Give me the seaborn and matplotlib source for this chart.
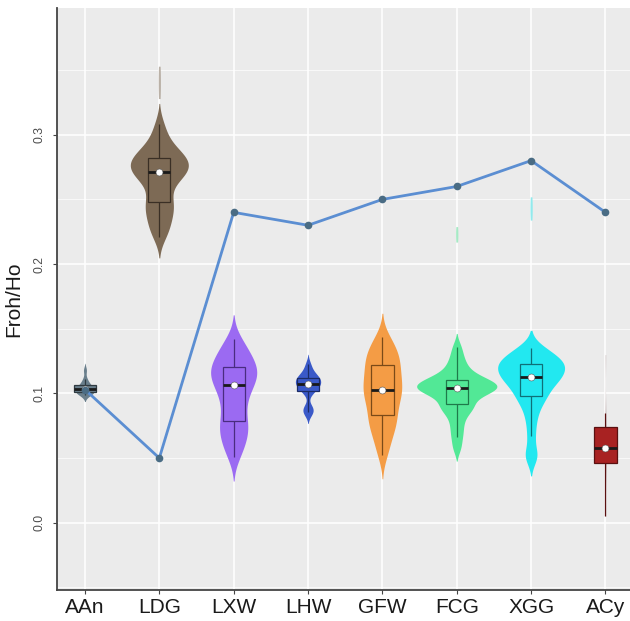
import numpy as np
import pandas as pd
import matplotlib
matplotlib.use("Agg")
import matplotlib.pyplot as plt
from matplotlib.colors import to_rgb
from matplotlib.ticker import MultipleLocator
import seaborn as sns

# ---------------- data ----------------
categories = ["AAn", "LDG", "LXW", "LHW", "GFW", "FCG", "XGG", "ACy"]

aan = [0.099, 0.100, 0.101, 0.101, 0.102, 0.103, 0.104, 0.105, 0.106, 0.108, 0.111, 0.118]
ldg = [0.221, 0.226, 0.231, 0.235, 0.239, 0.243, 0.246, 0.248, 0.252, 0.258,
       0.263, 0.266, 0.268, 0.270, 0.271, 0.272, 0.274, 0.276, 0.277, 0.279,
       0.280, 0.282, 0.283, 0.285, 0.287, 0.290, 0.294, 0.300, 0.308]
lxw = [0.051, 0.057, 0.062, 0.066, 0.070, 0.073, 0.0765, 0.079, 0.0845, 0.0895,
       0.094, 0.098, 0.1015, 0.105, 0.108, 0.110, 0.112, 0.114, 0.116, 0.118,
       0.120, 0.122, 0.1245, 0.127, 0.130, 0.1335, 0.1375, 0.142]
lhw = [0.084, 0.086, 0.088, 0.090, 0.100, 0.102, 0.104, 0.105, 0.106, 0.107,
       0.108, 0.109, 0.110, 0.111, 0.112, 0.113, 0.114, 0.116, 0.119, 0.123]
gfw = [0.052, 0.060, 0.066, 0.071, 0.075, 0.078, 0.081, 0.084, 0.088, 0.092,
       0.095, 0.098, 0.100, 0.102, 0.104, 0.107, 0.110, 0.112, 0.115, 0.118,
       0.121, 0.124, 0.126, 0.129, 0.132, 0.135, 0.139, 0.144]
fcg = [0.058, 0.066, 0.072, 0.078, 0.083, 0.087, 0.089, 0.090, 0.092, 0.095,
       0.098, 0.100, 0.101, 0.102, 0.103, 0.104, 0.104, 0.105, 0.105, 0.106,
       0.107, 0.108, 0.109, 0.110, 0.111, 0.112, 0.114, 0.117, 0.120, 0.124,
       0.129, 0.136]
xgg = [0.050, 0.054, 0.067, 0.078, 0.086, 0.092, 0.096, 0.098, 0.101,
       0.104, 0.107, 0.109, 0.111, 0.112, 0.113, 0.114, 0.116, 0.118, 0.120,
       0.121, 0.122, 0.123, 0.124, 0.125, 0.127, 0.129, 0.131, 0.134, 0.135]
acy = [0.005, 0.038, 0.046, 0.055, 0.058, 0.066, 0.074, 0.085, 0.130]

# detached upper tails (isolated high values)
ldg_tail = [0.328, 0.336, 0.345, 0.353]
fcg_tail = [0.217, 0.223, 0.229]
xgg_tail = [0.234, 0.240, 0.246, 0.252]

line_values = [0.103, 0.050, 0.240, 0.230, 0.250, 0.260, 0.280, 0.240]

y_ticks = [0.0, 0.1, 0.2, 0.3]
y_label = "Froh/Ho"

# ---------------- styles ----------------
group_values = [aan, ldg, lxw, lhw, gfw, fcg, xgg, acy]
tail_values = {"LDG": ldg_tail, "FCG": fcg_tail, "XGG": xgg_tail}
fill_colors = ["#6a7f8c", "#7d6a55", "#9b6af2", "#3a59c8", "#f49c45",
               "#52e896", "#22e8f0", "#a82222"]
edge_colors = ["#2f3a40", "#3a2f25", "#4a2c80", "#1c2c66", "#7a4a18",
               "#1f7a4a", "#0f7078", "#5a1010"]
violin_colors = ["#6a7f8c", "#7d6a55", "#9b6af2", "#3a59c8", "#f49c45",
                 "#52e896", "#22e8f0", "#8a6a6a"]
violin_widths = [0.26, 0.78, 0.62, 0.34, 0.52, 1.08, 0.9, 0.012]
bw_adjusts = [0.8, 0.7, 0.7, 0.6, 0.7, 0.6, 0.6, 0.5]
cuts = [2, 2, 2, 2, 2, 2, 2, 0]
bg = "#ebebeb"


def blend(c, amount):
    a = np.array(to_rgb(c))
    b = np.array(to_rgb(bg))
    return tuple(a * (1 - amount) + b * amount)


plt.rcParams["font.family"] = ["Liberation Sans", "DejaVu Sans"]

fig = plt.figure(figsize=(6.3, 6.21), dpi=100)
ax = fig.add_axes([57 / 630, 1 - 590 / 621, (630 - 57) / 630, (590 - 8) / 621])
ax.set_facecolor(bg)

for cat, vals, fc, vc, ec, w, bw, ct in zip(categories, group_values, fill_colors,
                                            violin_colors, edge_colors,
                                            violin_widths, bw_adjusts, cuts):
    df = pd.DataFrame({"group": [cat] * len(vals), "value": vals})
    sns.violinplot(data=df, x="group", y="value", order=categories, color=vc,
                   width=w, density_norm="width", cut=ct, inner=None,
                   linewidth=0, bw_adjust=bw, saturation=1, ax=ax)
    if cat in tail_values:
        tv = tail_values[cat]
        tdf = pd.DataFrame({"group": [cat] * len(tv), "value": tv})
        sns.violinplot(data=tdf, x="group", y="value", order=categories,
                       color=blend(fc, 0.55), width=0.03, density_norm="width",
                       cut=0, inner=None, linewidth=0, saturation=1, ax=ax)
    sns.boxplot(data=df, x="group", y="value", order=categories, width=0.3,
                color=fc, linecolor=ec, linewidth=0.9, showfliers=False,
                showcaps=False, saturation=1,
                medianprops=dict(color="#1a1a1a", linewidth=2.0), ax=ax)
    sns.pointplot(data=df, x="group", y="value", order=categories,
                  estimator="median", errorbar=None, color="white",
                  markers="o", linestyles="none", markersize=5, ax=ax)
    dot = ax.lines[-1]
    dot.set_markeredgecolor("#555555")
    dot.set_markeredgewidth(0.4)
    dot.set_zorder(6)

sns.pointplot(x=categories, y=line_values, order=categories, color="#5b8ed2",
              markers="o", linestyles="-", errorbar=None, markersize=4,
              linewidth=2, ax=ax)
pl = ax.lines[-1]
pl.set_markerfacecolor("#4a6c84")
pl.set_markeredgecolor("#4a6c84")
pl.set_zorder(7)

ax.set_xlim(-0.376, 7.33)
ax.set_ylim(-0.052, 0.398)
ax.set_yticks(y_ticks)
ax.set_yticklabels([f"{t:.1f}" for t in y_ticks], rotation=90, va="center",
                   fontsize=8.8, color="#4d4d4d")
ax.yaxis.set_minor_locator(MultipleLocator(0.05))
ax.set_axisbelow(True)
ax.grid(True, which="major", color="white", linewidth=1.1)
ax.grid(True, which="minor", axis="y", color="white", linewidth=0.5)
ax.xaxis.grid(True, color="white", linewidth=1.1)

for s in ["top", "right"]:
    ax.spines[s].set_visible(False)
for s in ["left", "bottom"]:
    ax.spines[s].set_color("#444444")
    ax.spines[s].set_linewidth(1.3)

ax.tick_params(axis="both", which="major", length=3, color="#444444", width=0.8)
ax.tick_params(axis="y", which="minor", length=0)
ax.tick_params(axis="y", pad=5)
ax.tick_params(axis="x", pad=3)
for lab in ax.get_xticklabels():
    lab.set_fontsize(15)
    lab.set_color("#1a1a1a")
ax.set_xlabel("")
ax.set_ylabel(y_label, fontsize=15, color="#1a1a1a", labelpad=8)

fig.savefig("out.png", dpi=100)
